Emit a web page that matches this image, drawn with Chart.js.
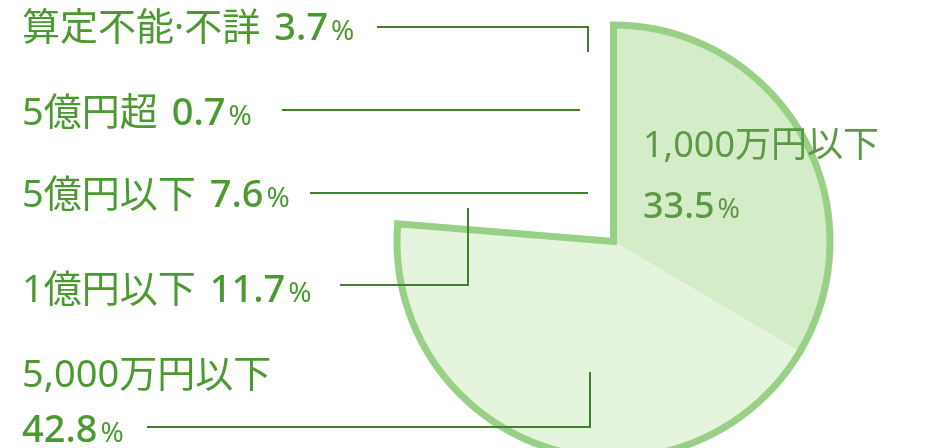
<!DOCTYPE html>
<html lang="ja">
<head>
<meta charset="utf-8">
<script src="https://cdn.jsdelivr.net/npm/chart.js@4.4.0/dist/chart.umd.min.js"></script>
<style>
    html, body { margin: 0; padding: 0; background: #fff; overflow: hidden; }
    #wrap { position: relative; width: 931px; height: 448px; overflow: hidden; }
    #box { position: absolute; left: 0; top: 0; width: 931px; height: 490px; }
</style>
</head>
<body>
<div id="wrap"><div id="box"><canvas id="incomeChart"></canvas></div></div>
<script>
// data
const categories = ["1,000万円以下", "5,000万円以下", "1億円以下", "5億円以下", "5億円超", "算定不能·不詳"];
const shares = [33.5, 42.8, 11.7, 7.6, 0.7, 3.7];
const sliceColors = ["#d5ecc8", "#e5f4dc", "rgba(0,0,0,0)", "rgba(0,0,0,0)", "rgba(0,0,0,0)", "rgba(0,0,0,0)"];

// label placement (one entry per category): name position, value position, leader polyline
const labelLayout = [
    { x: 643, y: 157, vx: 643, vy: 218, size: 36, color: "#5c9846", leader: null },
    { x: 22, y: 387, vx: 22, vy: 442, size: 38, color: "#4a9a30", leader: [[147, 427], [590, 427], [590, 372]] },
    { x: 22, y: 302, size: 38, color: "#4a9a30", leader: [[340, 285], [468, 285], [468, 208]] },
    { x: 22, y: 207, size: 38, color: "#4a9a30", leader: [[310, 193], [588, 193]] },
    { x: 22, y: 125, size: 38, color: "#4a9a30", leader: [[282, 110], [580, 110]] },
    { x: 22, y: 40, size: 38, color: "#4a9a30", leader: [[377, 27], [588, 27], [588, 52]] },
];

const FONT = '"Noto Sans", "Noto Sans CJK JP", sans-serif';

// outline only around the shaded slices, no line between them
const outlinePlugin = {
    id: "outline",
    afterDatasetsDraw(chart) {
        const arcs = chart.getDatasetMeta(0).data;
        const first = arcs[0];
        const last = arcs[1];
        const ctx = chart.ctx;
        ctx.save();
        ctx.beginPath();
        ctx.moveTo(first.x, first.y);
        ctx.arc(first.x, first.y, first.outerRadius, first.startAngle, last.endAngle);
        ctx.closePath();
        ctx.lineWidth = 7;
        ctx.lineJoin = "miter";
        ctx.strokeStyle = "#98d086";
        ctx.stroke();
        ctx.restore();
    }
};

const labelPlugin = {
    id: "labels",
    afterDraw(chart) {
        const ctx = chart.ctx;
        ctx.save();
        ctx.textBaseline = "alphabetic";
        ctx.textAlign = "left";
        labelLayout.forEach((lay, i) => {
            // leader line
            if (lay.leader) {
                ctx.beginPath();
                ctx.moveTo(lay.leader[0][0], lay.leader[0][1]);
                for (let k = 1; k < lay.leader.length; k++) {
                    ctx.lineTo(lay.leader[k][0], lay.leader[k][1]);
                }
                ctx.lineWidth = 2;
                ctx.strokeStyle = "#3f812c";
                ctx.stroke();
            }
            ctx.fillStyle = lay.color;
            ctx.font = "400 " + lay.size + "px " + FONT;
            ctx.fillText(categories[i], lay.x, lay.y);

            let vx, vy;
            if (lay.vx !== undefined) {
                vx = lay.vx;
                vy = lay.vy;
            } else {
                vx = lay.x + ctx.measureText(categories[i]).width + 14;
                vy = lay.y;
            }
            const num = shares[i].toFixed(1);
            ctx.font = "500 " + lay.size + "px " + FONT;
            ctx.fillText(num, vx, vy);
            const nw = ctx.measureText(num).width;
            ctx.font = "400 " + Math.round(lay.size * 0.74) + "px " + FONT;
            ctx.fillText("%", vx + nw + 3, vy);
        });
        ctx.restore();
    }
};

new Chart(document.getElementById("incomeChart"), {
    type: "pie",
    data: {
        labels: categories,
        datasets: [{
            data: shares,
            backgroundColor: sliceColors,
            borderWidth: 0,
        }]
    },
    options: {
        responsive: true,
        maintainAspectRatio: false,
        animation: false,
        rotation: 0,
        layout: {
            padding: { left: 397, right: 101, top: 25, bottom: 32 }
        },
        plugins: {
            legend: { display: false },
            tooltip: { enabled: false }
        },
        events: []
    },
    plugins: [outlinePlugin, labelPlugin]
});
</script>
</body>
</html>
